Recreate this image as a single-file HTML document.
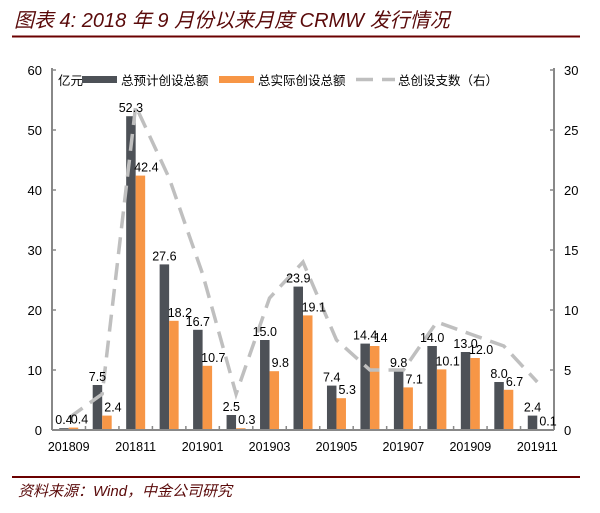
<!DOCTYPE html>
<html><head><meta charset="utf-8"><style>
body{margin:0;background:#fff;width:600px;height:508px;overflow:hidden;font-family:"Liberation Sans","Noto Sans CJK SC",sans-serif}
</style></head><body>
<svg width="600" height="508" xmlns="http://www.w3.org/2000/svg">
<text x="14" y="27" font-size="20" font-style="italic" fill="#5a0a0a" font-family="Liberation Sans,Noto Sans CJK SC,sans-serif">图表 4: 2018 年 9 月份以来月度 CRMW 发行情况</text>
<line x1="12" y1="36.5" x2="580" y2="36.5" stroke="#6b0000" stroke-width="2"/>
<g id="plot"></g>
<line x1="12" y1="477" x2="580" y2="477" stroke="#6b0000" stroke-width="2"/>
<text x="18" y="496" font-size="15" font-style="italic" fill="#5a0a0a">资料来源：Wind，中金公司研究</text>
</svg>
<script>
const categories=["201809","201810","201811","201812","201901","201902","201903","201904","201905","201906","201907","201908","201909","201910","201911"];
const planned=[0.3,7.5,52.3,27.6,16.7,2.5,15.0,23.9,7.4,14.4,9.8,14.0,13.0,8.0,2.4];
const plannedLabels=["0.4","7.5","52.3","27.6","16.7","2.5","15.0","23.9","7.4","14.4","9.8","14.0","13.0","8.0","2.4"];
const actual=[0.4,2.4,42.4,18.2,10.7,0.3,9.8,19.1,5.3,14,7.1,10.1,12.0,6.7,0.1];
const actualLabels=["0.4","2.4","42.4","18.2","10.7","0.3","9.8","19.1","5.3","14","7.1","10.1","12.0","6.7","0.1"];
const counts=[1,3,27,21,13,3,11,14,7.5,5,5,9,8,7,4];
const leftTicks=[0,10,20,30,40,50,60];
const rightTicks=[0,5,10,15,20,25,30];
const xTickLabels=["201809","201811","201901","201903","201905","201907","201909","201911"];

const NS="http://www.w3.org/2000/svg";
const g=document.getElementById('plot');
const X0=52,X1=554,Y0=430,Y1=70;
const step=(X1-X0)/categories.length;
const cx=i=>X0+step*(i+0.5);
const yL=v=>Y0-(v/60)*(Y0-Y1);
const yR=v=>Y0-(v/30)*(Y0-Y1);
function mk(tag,attrs,text){const e=document.createElementNS(NS,tag);for(const k in attrs)e.setAttribute(k,attrs[k]);if(text!==undefined)e.textContent=text;g.appendChild(e);return e;}
const bw=9.5;
categories.forEach((c,i)=>{
  let r=mk('rect',{x:cx(i)-bw,y:yL(planned[i]),width:bw,height:Y0-yL(planned[i]),fill:'#4d5157'});
  
  
  r=mk('rect',{x:cx(i),y:yL(actual[i]),width:bw,height:Y0-yL(actual[i]),fill:'#f79646'});
  
  
});
// axes
let a=mk('line',{x1:X0,y1:Y1-2,x2:X0,y2:Y0,stroke:'#888','stroke-width':2});


a=mk('line',{x1:X1,y1:Y1-2,x2:X1,y2:Y0,stroke:'#888','stroke-width':2});


a=mk('line',{x1:X0,y1:Y0,x2:X1,y2:Y0,stroke:'#888','stroke-width':2});


leftTicks.forEach(v=>{
  mk('line',{x1:X0,y1:yL(v),x2:X0+4,y2:yL(v),stroke:'#888','stroke-width':1.5});
  const t=mk('text',{x:X0-10,y:yL(v)+5,'font-size':13,'text-anchor':'end',fill:'#000'},String(v));
  
  
});
rightTicks.forEach(v=>{
  mk('line',{x1:X1-4,y1:yR(v),x2:X1,y2:yR(v),stroke:'#888','stroke-width':1.5});
  const t=mk('text',{x:X1+10,y:yR(v)+5,'font-size':13,'text-anchor':'start',fill:'#000'},String(v));
  
  
});
for(let i=1;i<categories.length;i++){mk('line',{x1:X0+step*i,y1:Y0,x2:X0+step*i,y2:Y0-4,stroke:'#888','stroke-width':1.5});}
categories.forEach((c,i)=>{
  if(xTickLabels.indexOf(c)<0)return;
  const t=mk('text',{x:cx(i),y:451,'font-size':12.5,'text-anchor':'middle',fill:'#000'},c);
  
  
});
// line
const pts=counts.map((v,i)=>cx(i)+','+yR(v)).join(' ');
const pl=mk('polyline',{points:pts,fill:'none',stroke:'#bfbfbf','stroke-width':3.5,'stroke-dasharray':'17,9'});


// value labels
categories.forEach((c,i)=>{
  let t=mk('text',{x:cx(i)-bw/2,y:yL(planned[i])-4,'font-size':12.5,'text-anchor':'middle',fill:'#000'},plannedLabels[i]);
  
  
  t=mk('text',{x:cx(i)+bw/2+6,y:yL(actual[i])-4,'font-size':12.5,'text-anchor':'middle',fill:'#000'},actualLabels[i]);
  
  
});
// legend
let t=mk('text',{x:58,y:85,'font-size':12.5,fill:'#000'},'亿元');


let r=mk('rect',{x:82,y:76,width:35,height:7,fill:'#4d5157'});


t=mk('text',{x:121,y:85,'font-size':12.5,fill:'#000'},'总预计创设总额');


r=mk('rect',{x:219,y:76,width:35,height:7,fill:'#f79646'});


t=mk('text',{x:258,y:85,'font-size':12.5,fill:'#000'},'总实际创设总额');


r=mk('line',{x1:356,y1:79.5,x2:395,y2:79.5,stroke:'#bfbfbf','stroke-width':3.5,'stroke-dasharray':'17,9'});


t=mk('text',{x:398,y:85,'font-size':12.5,fill:'#000'},'总创设支数（右）');


</script>
</body></html>
